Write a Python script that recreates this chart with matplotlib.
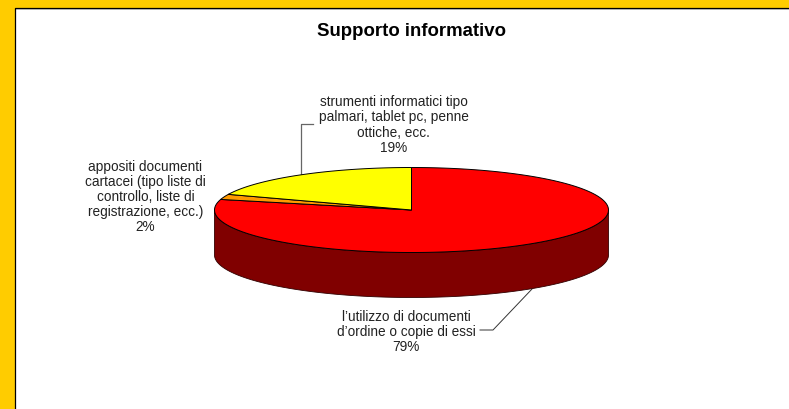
import numpy as np
import matplotlib
matplotlib.use("Agg")
import matplotlib.pyplot as plt

plt.rcParams['font.family'] = ['Liberation Sans', 'DejaVu Sans']

titolo = "Supporto informativo"
categorie = ["l\u2019utilizzo di documenti\nd\u2019ordine o copie di essi",
             "appositi documenti\ncartacei (tipo liste di\ncontrollo, liste di\nregistrazione, ecc.)",
             "strumenti informatici tipo\npalmari, tablet pc, penne\nottiche, ecc."]
valori = [79, 2, 19]
colori = ["#ff0000", "#ff9900", "#ffff00"]
colori_lato = ["#800000", "#804d00", "#808000"]

# geometria della torta in pixel
cx, cy = 411.5, 211
rx, ry = 197, 42.5
prof = 45

fig = plt.figure(figsize=(7.89, 4.10), dpi=100, facecolor="#ffcc00")
ax = fig.add_axes([0, 0, 1, 1])
ax.set_xlim(0, 789)
ax.set_ylim(410, 0)
ax.axis("off")

# pannello bianco con bordo nero a sinistra e in alto
ax.fill([15.5, 789, 789, 15.5], [8.5, 8.5, 410, 410], color="white", lw=0, zorder=1)
ax.plot([16.5, 789], [9.5, 9.5], color="#c8c8c8", lw=0.7, zorder=2)
ax.plot([15.5, 15.5, 789], [410, 8.5, 8.5], color="black", lw=0.9, zorder=2)

def punto(t):
    # t in frazioni di giro, da ore 12 in senso orario
    return cx + rx * np.sin(2 * np.pi * t), cy - ry * np.cos(2 * np.pi * t)

fraz = np.cumsum([0] + valori) / sum(valori)

# lato visibile (solo la meta' anteriore)
for i in range(len(valori)):
    a = max(fraz[i], 0.25)
    b = min(fraz[i + 1], 0.75)
    if b <= a:
        continue
    t = np.linspace(a, b, 200)
    x, y = punto(t)
    ax.fill(np.r_[x, x[::-1]], np.r_[y, y[::-1] + prof], facecolor=colori_lato[i],
            edgecolor="#300000", lw=0.6, zorder=3)

# faccia superiore
for i in range(len(valori)):
    t = np.linspace(fraz[i], fraz[i + 1], 300)
    x, y = punto(t)
    ax.fill(np.r_[cx, x], np.r_[cy, y], facecolor=colori[i], edgecolor="black", lw=0.7,
            joinstyle="miter", zorder=4)

# linee guida
ax.plot([532, 493, 480], [290, 331, 331], color="#333333", lw=0.7, zorder=2)
ax.plot([313, 301, 301], [125, 125, 176], color="#666666", lw=0.9, zorder=2)

# etichette
grigio = "#222222"
fs = 9.8
ax.text(412, 31, titolo, ha="center", va="center", fontsize=13.4, fontweight="bold", color="black")
ax.text(393.5, 125, categorie[2] + "\n%d%%" % valori[2], ha="center", va="center", fontsize=fs,
        color=grigio, linespacing=1.1)
ax.text(145.5, 197, categorie[1] + "\n%d%%" % valori[1], ha="center", va="center", fontsize=fs,
        color=grigio, linespacing=1.1)
ax.text(406, 332, categorie[0] + "\n%d%%" % valori[0], ha="center", va="center", fontsize=fs,
        color=grigio, linespacing=1.1)

fig.savefig("out.png", dpi=100, facecolor=fig.get_facecolor())
